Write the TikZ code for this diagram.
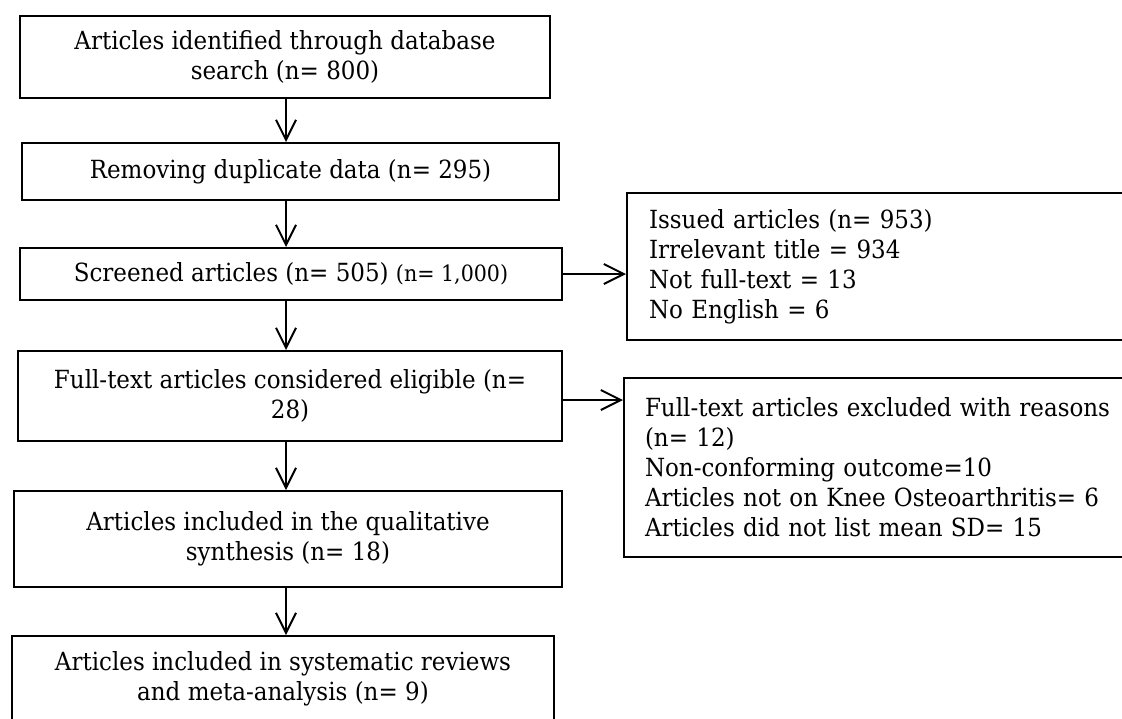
\documentclass[tikz,border=0pt]{standalone}
\usepackage{fontspec}
\setmainfont{DejaVu Serif}[FakeStretch=0.92]
\usetikzlibrary{arrows.meta}
\begin{document}
\begin{tikzpicture}[x=0.5pt,y=-0.5pt,
  box/.style={draw, line width=1pt, inner sep=0pt, anchor=north west, align=center,
    font=\fontsize{12.5}{15}\selectfont},
  sidebox/.style={box, align=left},
  arr/.style={-{Straight Barb[length=10pt,width=10pt,line width=1pt]}, line width=1pt}]
\useasboundingbox (0,0) rectangle (1122,718);
\coordinate (ax) at (286,0);
\coordinate (ay) at (0,400);
\node[box, minimum width=265pt, minimum height=41pt] (b1) at (19,15)
  {Articles identified through database\\search (n= 800)};
\node[box, minimum width=268.5pt, minimum height=28.5pt] (b2) at (21,142)
  {Removing duplicate data (n= 295)};
\node[box, minimum width=271pt, minimum height=26pt] (b3) at (19,247)
  {Screened articles (n= 505) {\fontsize{11.2}{12}\selectfont(n= 1,000)}};
\node[box, minimum width=272pt, minimum height=45pt] (b4) at (17,350)
  {Full-text articles considered eligible (n=\\28)};
\node[box, minimum width=274pt, minimum height=48pt] (b5) at (13,490)
  {Articles included in the qualitative\\synthesis (n= 18)};
\node[box, minimum width=271pt, minimum height=43pt] (b6) at (11,635)
  {Articles included in systematic reviews\\and meta-analysis (n= 9)};
\node[sidebox, text width=235pt, inner xsep=11pt, minimum height=73.5pt] (r1) at (626,192)
  {Issued articles (n= 953)\\Irrelevant title = 934\\Not full-text = 13\\No English = 6};
\node[sidebox, text width=238pt, inner xsep=10.5pt, minimum height=89.5pt] (r2) at (623,377)
  {Full-text articles excluded with reasons\\(n= 12)\\Non-conforming outcome=10\\Articles not on Knee Osteoarthritis= 6\\Articles did not list mean SD= 15};
\draw[arr] (b1.south -| ax) -- (b2.north -| ax);
\draw[arr] (b2.south -| ax) -- (b3.north -| ax);
\draw[arr] (b3.south -| ax) -- (b4.north -| ax);
\draw[arr] (b4.south -| ax) -- (b5.north -| ax);
\draw[arr] (b5.south -| ax) -- (b6.north -| ax);
\draw[arr] (b3.east) -- (b3.east -| r1.west);
\draw[arr] (b4.east |- ay) -- (r2.west |- ay);
\end{tikzpicture}
\end{document}
